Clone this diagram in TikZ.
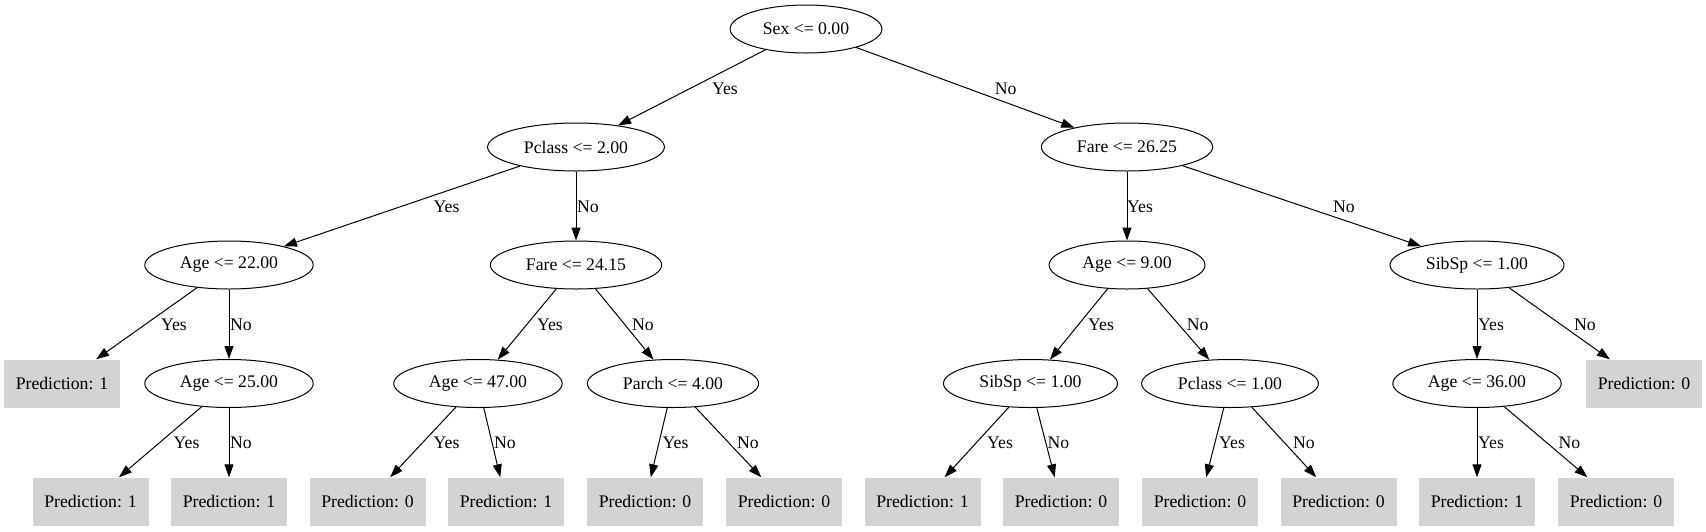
\documentclass[tikz,border=0pt]{standalone}
\usepackage{fontspec}
\setmainfont{Liberation Serif}
\usetikzlibrary{shapes.geometric,arrows.meta}
\definecolor{leafgray}{RGB}{211,211,211}
\begin{document}
\begin{tikzpicture}[x=1pt,y=-1pt,
  font=\fontsize{17.7}{21}\selectfont,
  dec/.style={ellipse, draw, line width=1pt, inner xsep=10.5pt, inner ysep=0pt, minimum height=48pt},
  leaf/.style={rectangle, fill=leafgray, inner sep=0pt, minimum width=116pt, minimum height=48pt},
  conn/.style={line width=1pt, -{Triangle[length=13pt,width=9pt]}},
  lab/.style={inner sep=0pt}]
\useasboundingbox (0,0) rectangle (1706,531);
% row 1
\node[dec] (sex) at (806,29) {Sex <= 0.00};
% row 2
\node[dec] (pc2) at (576,147) {Pclass <= 2.00};
\node[dec] (f26) at (1127,147) {Fare <= 26.25};
% row 3
\node[dec] (a22) at (229,265) {Age <= 22.00};
\node[dec] (f24) at (576,265) {Fare <= 24.15};
\node[dec] (a9) at (1127,265) {Age <= 9.00};
\node[dec] (sb1) at (1477,265) {SibSp <= 1.00};
% row 4
\node[leaf] (p1a) at (62,383.5) {Prediction: 1};
\node[dec] (a25) at (229,383.5) {Age <= 25.00};
\node[dec] (a47) at (478,383.5) {Age <= 47.00};
\node[dec] (pa4) at (673,383.5) {Parch <= 4.00};
\node[dec] (sb2) at (1030.5,383.5) {SibSp <= 1.00};
\node[dec] (pc1) at (1230,383.5) {Pclass <= 1.00};
\node[dec] (a36) at (1477,383.5) {Age <= 36.00};
\node[leaf] (p0a) at (1644,383.5) {Prediction: 0};
% row 5
\node[leaf] (l1) at (90.5,501.5) {Prediction: 1};
\node[leaf] (l2) at (229,501.5) {Prediction: 1};
\node[leaf] (l3) at (367.5,501.5) {Prediction: 0};
\node[leaf] (l4) at (506,501.5) {Prediction: 1};
\node[leaf] (l5) at (645,501.5) {Prediction: 0};
\node[leaf] (l6) at (784,501.5) {Prediction: 0};
\node[leaf] (l7) at (922.5,501.5) {Prediction: 1};
\node[leaf] (l8) at (1061,501.5) {Prediction: 0};
\node[leaf] (l9) at (1200,501.5) {Prediction: 0};
\node[leaf] (l10) at (1338.5,501.5) {Prediction: 0};
\node[leaf] (l11) at (1477,501.5) {Prediction: 1};
\node[leaf] (l12) at (1616,501.5) {Prediction: 0};
% edges
\draw[conn] (sex) -- (pc2);
\draw[conn] (sex) -- (f26);
\draw[conn] (pc2) -- (a22);
\draw[conn] (pc2) -- (f24);
\draw[conn] (f26) -- (a9);
\draw[conn] (f26) -- (sb1);
\draw[conn] (a22) -- (p1a);
\draw[conn] (a22) -- (a25);
\draw[conn] (f24) -- (a47);
\draw[conn] (f24) -- (pa4);
\draw[conn] (a9) -- (sb2);
\draw[conn] (a9) -- (pc1);
\draw[conn] (sb1) -- (a36);
\draw[conn] (sb1) -- (p0a);
\draw[conn] (a25) -- (l1);
\draw[conn] (a25) -- (l2);
\draw[conn] (a47) -- (l3);
\draw[conn] (a47) -- (l4);
\draw[conn] (pa4) -- (l5);
\draw[conn] (pa4) -- (l6);
\draw[conn] (sb2) -- (l7);
\draw[conn] (sb2) -- (l8);
\draw[conn] (pc1) -- (l9);
\draw[conn] (pc1) -- (l10);
\draw[conn] (a36) -- (l11);
\draw[conn] (a36) -- (l12);
% edge labels
\node[lab] (y1) at (725,89) {Yes};
\node[lab] (n1) at (1005.6,89) {No};
\node[lab] (y2) at (446.6,207) {Yes};
\node[lab] (n2) at (588,207) {No};
\node[lab] (y3) at (1140,207) {Yes};
\node[lab] (n3) at (1344,207) {No};
\node[lab] (y4) at (174,325) {Yes};
\node[lab] (n4) at (241,325) {No};
\node[lab] (y5) at (550,325) {Yes};
\node[lab] (n5) at (643,325) {No};
\node[lab] (y6) at (1101,325) {Yes};
\node[lab] (n6) at (1197.7,325) {No};
\node[lab] (y7) at (1491,325) {Yes};
\node[lab] (n7) at (1585,325) {No};
\node[lab] (y8) at (186.6,443) {Yes};
\node[lab] (n8) at (241,443) {No};
\node[lab] (y9) at (446.6,443) {Yes};
\node[lab] (n9) at (505,443) {No};
\node[lab] (y10) at (675.6,443) {Yes};
\node[lab] (n10) at (748,443) {No};
\node[lab] (y11) at (1000,443) {Yes};
\node[lab] (n11) at (1058.5,443) {No};
\node[lab] (y12) at (1232,443) {Yes};
\node[lab] (n12) at (1304,443) {No};
\node[lab] (y13) at (1491,443) {Yes};
\node[lab] (n13) at (1569.5,443) {No};
\end{tikzpicture}
\end{document}
